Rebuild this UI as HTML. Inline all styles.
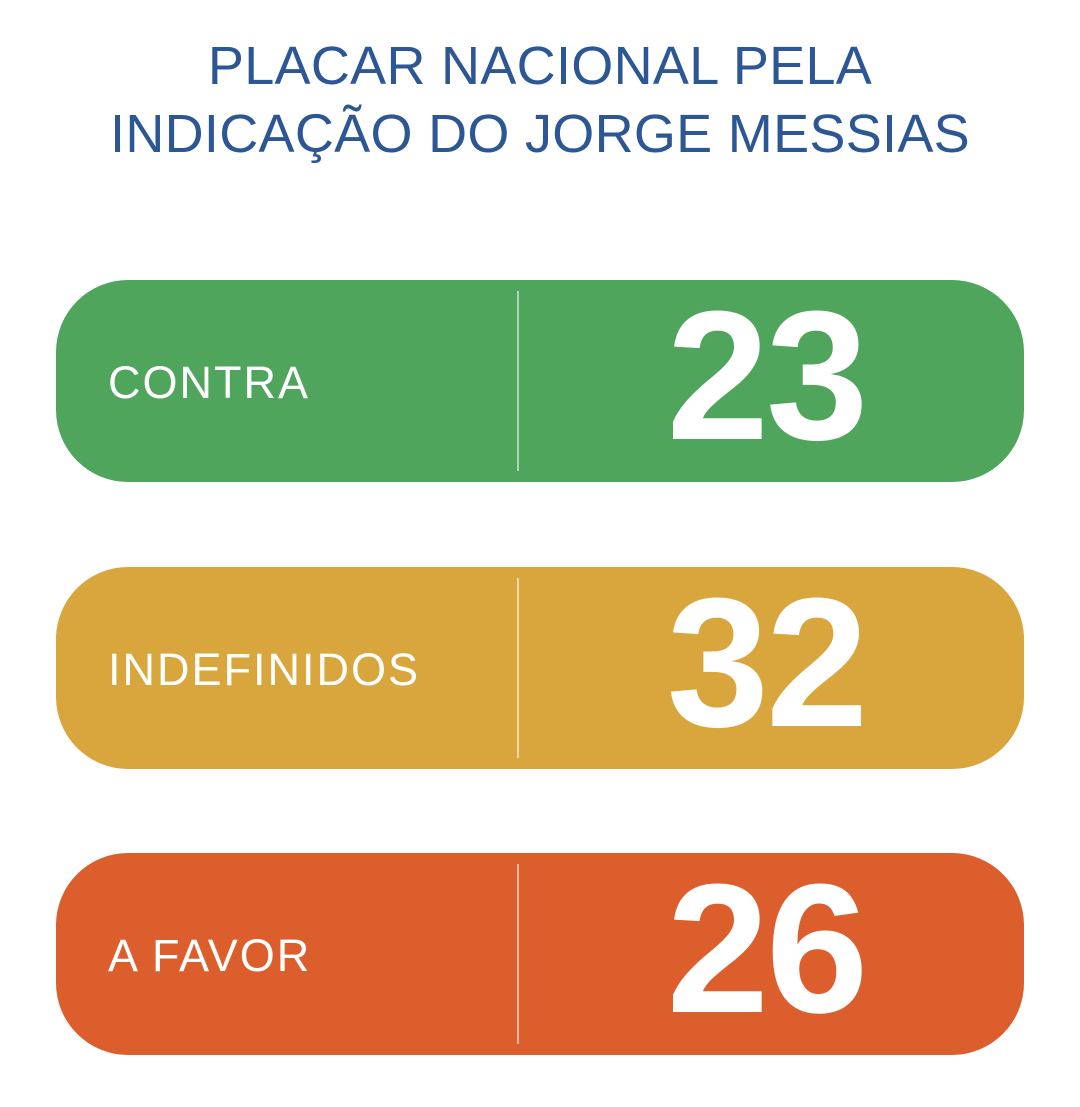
<!DOCTYPE html>
<html><head><meta charset="utf-8">
<style>
html,body{margin:0;padding:0;background:#fff;}
body{width:1080px;height:1107px;position:relative;overflow:hidden;font-family:"Liberation Sans","DejaVu Sans",sans-serif;}
.title{position:absolute;left:0;width:1080px;text-align:center;color:#2c5794;font-size:54px;line-height:60px;letter-spacing:0.3px;}
.card{position:absolute;left:56px;width:968px;height:202px;border-radius:72px;}
.label{position:absolute;left:52px;top:2px;height:202px;line-height:202px;color:#fff;font-size:45px;letter-spacing:2px;}
.div{position:absolute;left:461px;top:11px;width:2px;height:180px;background:rgba(255,255,255,0.55);}
.num{position:absolute;left:580px;width:260px;top:-6px;height:202px;line-height:202px;text-align:center;color:#fff;font-weight:bold;font-size:184px;letter-spacing:-3px;}
</style></head>
<body>
<div class="title" style="top:36px">PLACAR NACIONAL PELA</div>
<div class="title" style="top:104px">INDICAÇÃO DO JORGE MESSIAS</div>
<div id="cards"></div>
<script>
const categories=["CONTRA","INDEFINIDOS","A FAVOR"];
const values=[23,32,26];
const colors=["#4ea55b","#d9a63e","#dc5e2d"];
const tops=[280,567,853];
const root=document.getElementById('cards');
categories.forEach((c,i)=>{
  const card=document.createElement('div');
  card.className='card';
  
  
  card.style.top=tops[i]+'px';card.style.background=colors[i];
  const l=document.createElement('div');l.className='label';l.textContent=c;
  
  
  const d=document.createElement('div');d.className='div';
  
  
  const n=document.createElement('div');n.className='num';n.textContent=values[i];
  
  
  card.appendChild(l);card.appendChild(d);card.appendChild(n);
  root.appendChild(card);
});
</script>
</body></html>
